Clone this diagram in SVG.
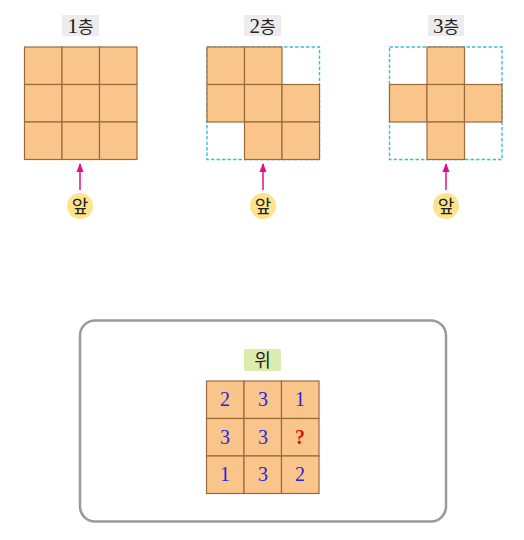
<svg xmlns="http://www.w3.org/2000/svg" width="524" height="540" viewBox="0 0 524 540">
<style>
.c{fill:#f9c58b;stroke:#9c6b3c;stroke-width:1.2}
.d{fill:none;stroke:#36c0e0;stroke-width:1.4;stroke-dasharray:3.5,2}
.lb{fill:#ececec}
.t{font-family:"Liberation Serif","Noto Sans CJK KR",serif;font-size:21px;fill:#222;text-anchor:middle}
.k{font-family:"Noto Sans CJK KR",sans-serif;font-size:18px;fill:#222;text-anchor:middle}
.ar{stroke:#e0108a;stroke-width:1.5;fill:none}
.fr{fill:#fde48c}
.n{font-family:"Liberation Serif",serif;font-size:20px;fill:#2a1ee0;text-anchor:middle}
.q{font-family:"Liberation Serif",serif;font-size:20px;font-weight:bold;fill:#e01010;text-anchor:middle}
</style>
<defs>
<marker id="ah" viewBox="0 0 10 10" refX="9" refY="5" markerWidth="6" markerHeight="6" orient="auto">
<path d="M0,1 L10,5 L0,9 z" fill="#e0108a"/>
</marker>
</defs>
<rect width="524" height="540" fill="#fff"/>

<g id="floor1">
<rect class="lb" x="62" y="15" width="37" height="21"/>
<text class="t" x="80.5" y="33">1<tspan font-family="Noto Sans CJK KR,sans-serif" font-size="17">층</tspan></text>
<rect class="c" x="24.5" y="47" width="37.5" height="37.5"/>
<rect class="c" x="62" y="47" width="37.5" height="37.5"/>
<rect class="c" x="99.5" y="47" width="37.5" height="37.5"/>
<rect class="c" x="24.5" y="84.5" width="37.5" height="37.5"/>
<rect class="c" x="62" y="84.5" width="37.5" height="37.5"/>
<rect class="c" x="99.5" y="84.5" width="37.5" height="37.5"/>
<rect class="c" x="24.5" y="122" width="37.5" height="37.5"/>
<rect class="c" x="62" y="122" width="37.5" height="37.5"/>
<rect class="c" x="99.5" y="122" width="37.5" height="37.5"/>
</g>

<g id="floor2">
<rect class="lb" x="244" y="15" width="37" height="21"/>
<text class="t" x="262.5" y="33">2<tspan font-family="Noto Sans CJK KR,sans-serif" font-size="17">층</tspan></text>
<rect class="d" x="207" y="47" width="112.5" height="112.5"/>
<rect class="c" x="207" y="47" width="37.5" height="37.5"/>
<rect class="c" x="244.5" y="47" width="37.5" height="37.5"/>
<rect class="c" x="207" y="84.5" width="37.5" height="37.5"/>
<rect class="c" x="244.5" y="84.5" width="37.5" height="37.5"/>
<rect class="c" x="282" y="84.5" width="37.5" height="37.5"/>
<rect class="c" x="244.5" y="122" width="37.5" height="37.5"/>
<rect class="c" x="282" y="122" width="37.5" height="37.5"/>
</g>

<g id="floor3">
<rect class="lb" x="428" y="15" width="36" height="21"/>
<text class="t" x="446" y="33">3<tspan font-family="Noto Sans CJK KR,sans-serif" font-size="17">층</tspan></text>
<rect class="d" x="389.5" y="47" width="112.5" height="112.5"/>
<rect class="c" x="427" y="47" width="37.5" height="37.5"/>
<rect class="c" x="389.5" y="84.5" width="37.5" height="37.5"/>
<rect class="c" x="427" y="84.5" width="37.5" height="37.5"/>
<rect class="c" x="464.5" y="84.5" width="37.5" height="37.5"/>
<rect class="c" x="427" y="122" width="37.5" height="37.5"/>
</g>

<g id="front1">
<circle class="fr" cx="80" cy="206" r="13"/>
<text class="k" x="80" y="212.5">앞</text>
</g>
<g id="front2">
<circle class="fr" cx="263" cy="206" r="13"/>
<text class="k" x="263" y="212.5">앞</text>
</g>
<g id="front3">
<circle class="fr" cx="446" cy="206" r="13"/>
<text class="k" x="446" y="212.5">앞</text>
</g>

<g id="connectors">
<line class="ar" x1="80" y1="190" x2="80" y2="164" marker-end="url(#ah)"/>
<line class="ar" x1="263" y1="190" x2="263" y2="164" marker-end="url(#ah)"/>
<line class="ar" x1="446" y1="190" x2="446" y2="164" marker-end="url(#ah)"/>
</g>

<g id="topview">
<rect x="80" y="320.5" width="366" height="201" rx="15" fill="none" stroke="#9a9a9a" stroke-width="2.5"/>
<rect x="244" y="349" width="37" height="22" rx="2" fill="#dcecae"/>
<text class="k" x="262.5" y="366.5">위</text>
<rect class="c" x="206.5" y="381" width="37.5" height="37.5"/>
<rect class="c" x="244" y="381" width="37.5" height="37.5"/>
<rect class="c" x="281.5" y="381" width="37.5" height="37.5"/>
<rect class="c" x="206.5" y="418.5" width="37.5" height="37.5"/>
<rect class="c" x="244" y="418.5" width="37.5" height="37.5"/>
<rect class="c" x="281.5" y="418.5" width="37.5" height="37.5"/>
<rect class="c" x="206.5" y="456" width="37.5" height="37.5"/>
<rect class="c" x="244" y="456" width="37.5" height="37.5"/>
<rect class="c" x="281.5" y="456" width="37.5" height="37.5"/>
<text class="n" x="225" y="406">2</text>
<text class="n" x="263" y="406">3</text>
<text class="n" x="300" y="406">1</text>
<text class="n" x="225" y="444">3</text>
<text class="n" x="263" y="444">3</text>
<text class="q" x="300" y="444">?</text>
<text class="n" x="225" y="481">1</text>
<text class="n" x="263" y="481">3</text>
<text class="n" x="300" y="481">2</text>
</g>
</svg>
